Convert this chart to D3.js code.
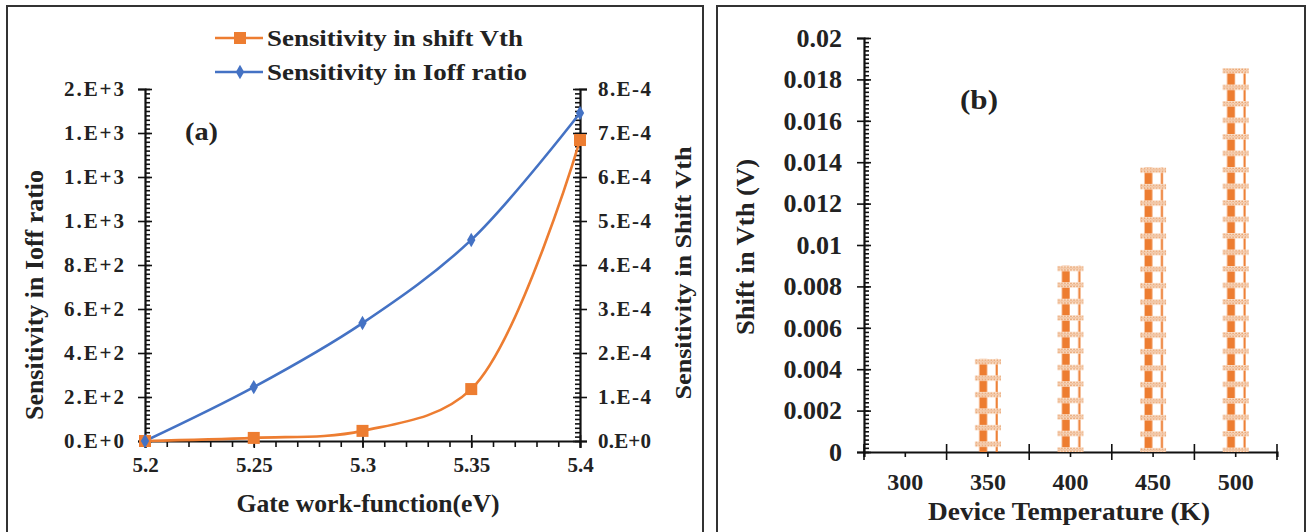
<!DOCTYPE html>
<html>
<head>
<meta charset="utf-8">
<script src="https://cdn.jsdelivr.net/npm/d3@7"></script>
<style>
  body { margin: 0; background: #fff; }
  svg text { font-family: "Times New Roman", "Liberation Serif", Times, serif; font-weight: bold; fill: #222; }
</style>
</head>
<body>
<div id="chart"></div>
<script>
// panel (a): sensitivity vs gate work-function
const workFunction = [5.2, 5.25, 5.3, 5.35, 5.4];
const ioffSensitivity = [0, 245, 536, 914, 1491];
const vthSensitivity = [0, 0.000007, 0.000023, 0.000118, 0.000684];
const xTicksA = [5.2, 5.25, 5.3, 5.35, 5.4];
const leftTicks = [0, 200, 400, 600, 800, 1000, 1200, 1400, 1600];
const leftTickLabels = ["0.E+0", "2.E+2", "4.E+2", "6.E+2", "8.E+2", "1.E+3", "1.E+3", "1.E+3", "2.E+3"];
const rightTicks = [0, 0.0001, 0.0002, 0.0003, 0.0004, 0.0005, 0.0006, 0.0007, 0.0008];
const rightTickLabels = ["0.E+0", "1.E-4", "2.E-4", "3.E-4", "4.E-4", "5.E-4", "6.E-4", "7.E-4", "8.E-4"];

// panel (b): shift in Vth vs device temperature
const temperatures = ["300", "350", "400", "450", "500"];
const vthShift = [0, 0.0045, 0.0090, 0.01375, 0.01855];
const vthTicks = [0, 0.002, 0.004, 0.006, 0.008, 0.01, 0.012, 0.014, 0.016, 0.018, 0.02];
const vthTickLabels = ["0", "0.002", "0.004", "0.006", "0.008", "0.01", "0.012", "0.014", "0.016", "0.018", "0.02"];

const orange = "#ED7D31", blue = "#4472C4";

const svg = d3.select("#chart").append("svg")
    .attr("width", 1306).attr("height", 532);

// panel frames
svg.append("rect").attr("x", 7).attr("y", 6).attr("width", 696).attr("height", 540)
    .attr("fill", "none").attr("stroke", "#333").attr("stroke-width", 2);
svg.append("rect").attr("x", 717).attr("y", 6).attr("width", 588).attr("height", 540)
    .attr("fill", "none").attr("stroke", "#333").attr("stroke-width", 2);

// ---------- panel (a) ----------
const x = d3.scaleLinear().domain([5.2, 5.4]).range([145, 580]);
const yL = d3.scaleLinear().domain([0, 1600]).range([441, 89]);
const yR = d3.scaleLinear().domain([0, 0.0008]).range([441, 89]);

// minor ticks (inside)
svg.append("g").attr("transform", "translate(145,0)")
    .call(d3.axisRight(yL).tickValues(d3.range(0, 1601, 20)).tickSize(5).tickFormat(""))
    .call(g => g.select(".domain").remove());
svg.append("g").attr("transform", "translate(580,0)")
    .call(d3.axisLeft(yR).tickValues(d3.range(0, 81).map(i => i * 1e-5)).tickSize(5).tickFormat(""))
    .call(g => g.select(".domain").remove());
svg.append("g").attr("transform", "translate(0,441)")
    .call(d3.axisBottom(x).tickValues(d3.range(0, 21).map(i => 5.2 + i * 0.01)).tickSize(6).tickFormat(""))
    .call(g => g.select(".domain").remove());

// major axes
const axL = svg.append("g").attr("transform", "translate(145,0)")
    .call(d3.axisLeft(yL).tickValues(leftTicks).tickSizeOuter(0).tickSize(7)
        .tickFormat((d, i) => leftTickLabels[i]));
axL.selectAll(".tick line").attr("x2", 7).attr("x1", -7);
axL.selectAll(".tick text").attr("x", -21).style("font-size", "21px")
    .attr("textLength", 60).attr("lengthAdjust", "spacing");

const axR = svg.append("g").attr("transform", "translate(580,0)")
    .call(d3.axisRight(yR).tickValues(rightTicks).tickSizeOuter(0).tickSize(7)
        .tickFormat((d, i) => rightTickLabels[i]));
axR.selectAll(".tick line").attr("x1", -7).attr("x2", 7);
axR.selectAll(".tick text").attr("x", 18).style("font-size", "21px")
    .attr("textLength", 53).attr("lengthAdjust", "spacing");

const axB = svg.append("g").attr("transform", "translate(0,441)")
    .call(d3.axisBottom(x).tickValues(xTicksA).tickSizeOuter(0).tickSize(7)
        .tickFormat(d => d3.format("")(d)));
axB.selectAll(".tick line").attr("y1", -6).attr("y2", 7);
axB.selectAll(".tick text").attr("y", 16).style("font-size", "21px");

svg.selectAll(".domain").attr("stroke", "#111").attr("stroke-width", 2.2);
svg.selectAll(".tick line").attr("stroke", "#111").attr("stroke-width", 1.6);

// lines
const ioffData = workFunction.map((w, i) => ({ x: w, y: ioffSensitivity[i] }));
const vthData = workFunction.map((w, i) => ({ x: w, y: vthSensitivity[i] }));

svg.append("path").datum(vthData)
    .attr("fill", "none").attr("stroke", orange).attr("stroke-width", 2.6)
    .attr("d", d3.line().x(d => x(d.x)).y(d => yR(d.y)).curve(d3.curveCatmullRom.alpha(0.5)));
svg.append("path").datum(ioffData)
    .attr("fill", "none").attr("stroke", blue).attr("stroke-width", 2.6)
    .attr("d", d3.line().x(d => x(d.x)).y(d => yL(d.y)).curve(d3.curveCatmullRom.alpha(0.5)));

svg.append("g").selectAll("rect").data(vthData).join("rect")
    .attr("x", d => x(d.x) - 6).attr("y", d => yR(d.y) - 6)
    .attr("width", 12).attr("height", 12).attr("fill", orange);
const diamond = d3.symbol().type(d3.symbolDiamond).size(60);
svg.append("g").selectAll("path").data(ioffData).join("path")
    .attr("transform", d => `translate(${x(d.x)},${yL(d.y)})`)
    .attr("d", diamond).attr("fill", blue);

// legend
const legend = [
    { label: "Sensitivity in shift Vth", color: orange, y: 38, len: 256, mark: "square" },
    { label: "Sensitivity in Ioff ratio", color: blue, y: 72, len: 260, mark: "diamond" }
];
legend.forEach(l => {
    svg.append("line").attr("x1", 215).attr("x2", 263).attr("y1", l.y).attr("y2", l.y)
        .attr("stroke", l.color).attr("stroke-width", 2.6);
    if (l.mark === "square") {
        svg.append("rect").attr("x", 234).attr("y", l.y - 6).attr("width", 12).attr("height", 12).attr("fill", l.color);
    } else {
        svg.append("path").attr("transform", `translate(240,${l.y})`).attr("d", diamond).attr("fill", l.color);
    }
    svg.append("text").attr("x", 267).attr("y", l.y + 8).style("font-size", "23px")
        .attr("textLength", l.len).attr("lengthAdjust", "spacingAndGlyphs").text(l.label);
});

svg.append("text").attr("x", 185).attr("y", 140).style("font-size", "25px")
    .attr("textLength", 33).attr("lengthAdjust", "spacingAndGlyphs").text("(a)");

svg.append("text").attr("x", 368).attr("y", 512).attr("text-anchor", "middle").style("font-size", "25px")
    .attr("textLength", 263).attr("lengthAdjust", "spacingAndGlyphs").text("Gate work-function(eV)");
svg.append("text").attr("transform", "translate(43,295) rotate(-90)").attr("text-anchor", "middle")
    .style("font-size", "25px").attr("textLength", 250).attr("lengthAdjust", "spacingAndGlyphs")
    .text("Sensitivity in Ioff ratio");
svg.append("text").attr("transform", "translate(691,273) rotate(-90)").attr("text-anchor", "middle")
    .style("font-size", "24px").attr("textLength", 253).attr("lengthAdjust", "spacingAndGlyphs")
    .text("Sensitivity in Shift Vth");

// ---------- panel (b) ----------
const xb = d3.scaleBand().domain(temperatures).range([864, 1277]).paddingInner(0.685).paddingOuter(0.3425);
const yb = d3.scaleLinear().domain([0, 0.02]).range([452, 38]);

svg.append("g").attr("transform", "translate(864,0)")
    .call(d3.axisRight(yb).tickValues(d3.range(0, 101).map(i => i * 0.0002)).tickSize(5).tickFormat(""))
    .call(g => g.select(".domain").remove());

const axBL = svg.append("g").attr("transform", "translate(864,0)")
    .call(d3.axisLeft(yb).tickValues(vthTicks).tickSizeOuter(0).tickSize(7)
        .tickFormat((d, i) => vthTickLabels[i]));
axBL.selectAll(".tick line").attr("x1", -7).attr("x2", 7);
axBL.selectAll(".tick text").attr("x", -22).style("font-size", "26px");

const axBB = svg.append("g").attr("transform", "translate(0,452)")
    .call(d3.axisBottom(xb).tickSizeOuter(0).tickSize(5));
axBB.selectAll(".tick text").attr("y", 21).style("font-size", "24px");
// category boundary ticks
const bounds = temperatures.map(t => xb(t) + xb.bandwidth() / 2 - xb.step() / 2).concat([1277]);
axBB.selectAll(".bound").data(bounds).join("line").attr("class", "bound")
    .attr("x1", d => d).attr("x2", d => d).attr("y1", -8).attr("y2", 8);

svg.selectAll(".domain").attr("stroke", "#111").attr("stroke-width", 2.2);
svg.selectAll(".tick line, .bound").attr("stroke", "#111").attr("stroke-width", 1.6);

// patterned bars
const bars = temperatures.map((t, i) => ({ t, v: vthShift[i] })).filter(d => d.v > 0);
const defs = svg.append("defs");
const bw = xb.bandwidth();
const pat = defs.selectAll("pattern").data(bars).join("pattern")
    .attr("id", (d, i) => "weave" + i)
    .attr("patternUnits", "userSpaceOnUse")
    .attr("x", d => xb(d.t)).attr("y", d => yb(d.v))
    .attr("width", bw).attr("height", 16.5);
pat.append("rect").attr("x", bw * 0.17).attr("y", 0).attr("width", bw * 0.3).attr("height", 16.5).attr("fill", orange);
pat.append("rect").attr("x", bw * 0.8).attr("y", 0).attr("width", bw * 0.08).attr("height", 16.5).attr("fill", orange);
pat.append("rect").attr("x", 0).attr("y", 0).attr("width", bw).attr("height", 5.5).attr("fill", "#FBE3D0");
pat.each(function () {
    const p = d3.select(this);
    d3.range(0, bw, 3).forEach(cx => {
        p.append("circle").attr("cx", cx + 1.5).attr("cy", 1.4).attr("r", 0.9).attr("fill", "#E8A06A");
        p.append("circle").attr("cx", cx + 1.5).attr("cy", 4.1).attr("r", 0.9).attr("fill", "#E8A06A");
        p.append("circle").attr("cx", cx).attr("cy", 2.75).attr("r", 0.7).attr("fill", "#EDB48A");
    });
});

svg.append("g").selectAll("rect").data(bars).join("rect")
    .attr("x", d => xb(d.t)).attr("y", d => yb(d.v))
    .attr("width", bw).attr("height", d => 452 - yb(d.v))
    .attr("fill", (d, i) => `url(#weave${i})`);

svg.append("text").attr("x", 960).attr("y", 109).style("font-size", "27px")
    .attr("textLength", 38).attr("lengthAdjust", "spacingAndGlyphs").text("(b)");
svg.append("text").attr("x", 1069).attr("y", 520).attr("text-anchor", "middle").style("font-size", "25px")
    .attr("textLength", 282).attr("lengthAdjust", "spacingAndGlyphs").text("Device Temperature  (K)");
svg.append("text").attr("transform", "translate(754,247) rotate(-90)").attr("text-anchor", "middle")
    .style("font-size", "25px").attr("textLength", 176).attr("lengthAdjust", "spacingAndGlyphs")
    .text("Shift in Vth (V)");
</script>
</body>
</html>
